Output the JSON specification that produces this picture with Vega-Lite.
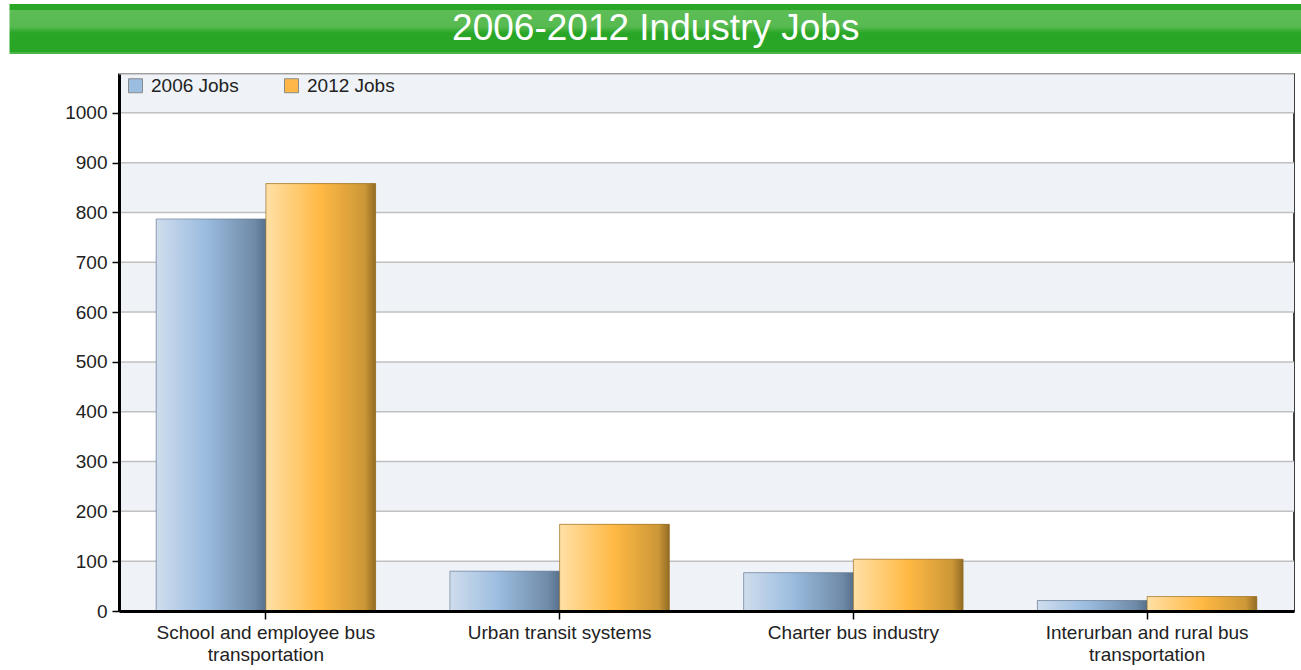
{
  "$schema": "https://vega.github.io/schema/vega-lite/v6.json",
  "padding": {"left": 9, "top": 4, "right": 0, "bottom": 0},
  "background": "white",
  "config": {
    "font": "Liberation Sans",
    "concat": {"spacing": 18},
    "axisY": {"domain": true, "domainColor": "#000", "domainWidth": 3, "tickColor": "#000", "tickWidth": 1.5, "tickSize": 7, "labelFontSize": 19, "labelColor": "#222", "labelPadding": 5, "grid": false, "zindex": 2, "format": "d"},
    "axisX": {"domain": true, "domainColor": "#000", "domainWidth": 3, "tickColor": "#000", "tickWidth": 1.5, "tickSize": 8, "labelFontSize": 19, "labelColor": "#222", "labelPadding": 4, "labelAngle": 0, "labelLineHeight": 22, "labelLimit": 0, "grid": false, "zindex": 2},
    "legend": {"orient": "none", "legendX": 7, "legendY": 2, "direction": "horizontal", "symbolType": "square", "symbolSize": 196, "symbolStrokeColor": "#8a8a8a", "symbolStrokeWidth": 1, "labelFontSize": 19, "labelColor": "#222", "labelOffset": 6, "columnPadding": 43, "title": null}
  },
  "datasets": {
    "jobs": [
      {"category": "School and employee bus transportation", "series": "2006 Jobs", "jobs": 787},
      {"category": "School and employee bus transportation", "series": "2012 Jobs", "jobs": 858},
      {"category": "Urban transit systems", "series": "2006 Jobs", "jobs": 80},
      {"category": "Urban transit systems", "series": "2012 Jobs", "jobs": 174},
      {"category": "Charter bus industry", "series": "2006 Jobs", "jobs": 77},
      {"category": "Charter bus industry", "series": "2012 Jobs", "jobs": 104},
      {"category": "Interurban and rural bus transportation", "series": "2006 Jobs", "jobs": 21},
      {"category": "Interurban and rural bus transportation", "series": "2012 Jobs", "jobs": 29}
    ],
    "bands": [
      {"lo": 0, "hi": 100},
      {"lo": 200, "hi": 300},
      {"lo": 400, "hi": 500},
      {"lo": 600, "hi": 700},
      {"lo": 800, "hi": 900},
      {"lo": 1000, "hi": 1078}
    ],
    "banner": [{"title": "2006-2012 Industry Jobs", "start": 0, "mid": 50, "end": 100}]
  },
  "resolve": {"scale": {"color": "independent"}, "legend": {"color": "independent"}},
  "vconcat": [
    {
      "width": 1175,
      "height": 50,
      "data": {"name": "banner"},
      "view": {"stroke": null},
      "layer": [
        {
          "mark": {"type": "rect", "fill": {"gradient": "linear", "x1": 0, "y1": 0, "x2": 0, "y2": 1, "stops": [
            {"offset": 0, "color": "#2aa627"},
            {"offset": 0.11, "color": "#2aa627"},
            {"offset": 0.12, "color": "#5dbd56"},
            {"offset": 0.45, "color": "#57ba51"},
            {"offset": 0.58, "color": "#2aa627"},
            {"offset": 0.96, "color": "#2aa627"},
            {"offset": 0.97, "color": "#4cb548"},
            {"offset": 1, "color": "#4cb548"}
          ]}},
          "encoding": {
            "x": {"field": "start", "type": "quantitative", "scale": {"domain": [8.472, 99.38], "nice": false, "zero": false}, "axis": null},
            "x2": {"field": "end"}
          }
        },
        {
          "mark": {"type": "text", "fontSize": 37, "color": "white", "baseline": "middle", "align": "center"},
          "encoding": {
            "x": {"field": "mid", "type": "quantitative", "axis": null},
            "text": {"field": "title"}
          }
        }
      ]
    },
    {
      "width": 1175,
      "height": 537,
      "data": {"name": "jobs"},
      "view": {"stroke": "#000", "strokeWidth": 1.5},
      "layer": [
        {
          "data": {"name": "bands"},
          "mark": {"type": "rect", "color": "#eff3f8"},
          "encoding": {
            "y": {"field": "lo", "type": "quantitative", "title": null, "scale": {"domain": [0, 1078], "nice": false},
              "axis": {"values": [0, 100, 200, 300, 400, 500, 600, 700, 800, 900, 1000], "domainWidth": 3, "domainColor": "#000", "zindex": 2}},
            "y2": {"field": "hi"}
          }
        },
        {
          "data": {"name": "bands"},
          "mark": {"type": "rule", "color": "#c0c0c0", "strokeWidth": 1.5},
          "encoding": {
            "y": {"field": "lo", "type": "quantitative", "title": null, "scale": {"domain": [0, 1078], "nice": false},
              "axis": {"values": [0, 100, 200, 300, 400, 500, 600, 700, 800, 900, 1000], "domainWidth": 3, "domainColor": "#000", "zindex": 2}}
          }
        },
        {
          "data": {"name": "bands"},
          "mark": {"type": "rule", "color": "#c0c0c0", "strokeWidth": 1.5},
          "encoding": {
            "y": {"field": "hi", "type": "quantitative", "title": null, "scale": {"domain": [0, 1078], "nice": false},
              "axis": {"values": [0, 100, 200, 300, 400, 500, 600, 700, 800, 900, 1000], "domainWidth": 3, "domainColor": "#000", "zindex": 2}}
          }
        },
        {
          "mark": {"type": "bar"},
          "encoding": {
            "x": {"field": "category", "type": "nominal", "sort": null, "title": null, "scale": {"paddingInner": 0.253, "paddingOuter": 0.1265},
              "axis": {"domainWidth": 3, "domainColor": "#000", "zindex": 2, "labelExpr": "datum.value == 'School and employee bus transportation' ? ['School and employee bus', 'transportation'] : datum.value == 'Interurban and rural bus transportation' ? ['Interurban and rural bus', 'transportation'] : datum.value"}},
            "xOffset": {"field": "series", "type": "nominal", "scale": {"domain": ["2006 Jobs", "2012 Jobs"], "paddingInner": 0, "paddingOuter": 0}},
            "y": {"field": "jobs", "type": "quantitative", "title": null, "scale": {"domain": [0, 1078], "nice": false},
              "axis": {"values": [0, 100, 200, 300, 400, 500, 600, 700, 800, 900, 1000], "domainWidth": 3, "domainColor": "#000", "zindex": 2}},
            "color": {"field": "series", "type": "nominal", "scale": {"domain": ["2006 Jobs", "2012 Jobs"], "range": ["#9bbde0", "#ffb847"]}}
          }
        },
        {
          "transform": [{"filter": "datum.series == '2006 Jobs'"}],
          "mark": {"type": "bar", "stroke": "#5f7288", "strokeWidth": 1, "strokeOpacity": 0.6, "fill": {"gradient": "linear", "x1": 0, "y1": 0, "x2": 1, "y2": 0, "stops": [
            {"offset": 0, "color": "#cfdded"},
            {"offset": 0.45, "color": "#9bbcdf"},
            {"offset": 0.9, "color": "#6f8aa7"},
            {"offset": 1, "color": "#56708c"}
          ]}},
          "encoding": {
            "x": {"field": "category", "type": "nominal", "sort": null, "title": null,
              "axis": {"domainWidth": 3, "domainColor": "#000", "zindex": 2, "labelExpr": "datum.value == 'School and employee bus transportation' ? ['School and employee bus', 'transportation'] : datum.value == 'Interurban and rural bus transportation' ? ['Interurban and rural bus', 'transportation'] : datum.value"}},
            "xOffset": {"field": "series", "type": "nominal", "scale": {"domain": ["2006 Jobs", "2012 Jobs"]}},
            "y": {"field": "jobs", "type": "quantitative", "title": null, "scale": {"domain": [0, 1078], "nice": false},
              "axis": {"values": [0, 100, 200, 300, 400, 500, 600, 700, 800, 900, 1000], "domainWidth": 3, "domainColor": "#000", "zindex": 2}}
          }
        },
        {
          "transform": [{"filter": "datum.series == '2012 Jobs'"}],
          "mark": {"type": "bar", "stroke": "#8a6420", "strokeWidth": 1, "strokeOpacity": 0.6, "fill": {"gradient": "linear", "x1": 0, "y1": 0, "x2": 1, "y2": 0, "stops": [
            {"offset": 0, "color": "#ffe0a6"},
            {"offset": 0.5, "color": "#ffb944"},
            {"offset": 0.9, "color": "#cc9737"},
            {"offset": 1, "color": "#926c24"}
          ]}},
          "encoding": {
            "x": {"field": "category", "type": "nominal", "sort": null, "title": null,
              "axis": {"domainWidth": 3, "domainColor": "#000", "zindex": 2, "labelExpr": "datum.value == 'School and employee bus transportation' ? ['School and employee bus', 'transportation'] : datum.value == 'Interurban and rural bus transportation' ? ['Interurban and rural bus', 'transportation'] : datum.value"}},
            "xOffset": {"field": "series", "type": "nominal", "scale": {"domain": ["2006 Jobs", "2012 Jobs"]}},
            "y": {"field": "jobs", "type": "quantitative", "title": null, "scale": {"domain": [0, 1078], "nice": false},
              "axis": {"values": [0, 100, 200, 300, 400, 500, 600, 700, 800, 900, 1000], "domainWidth": 3, "domainColor": "#000", "zindex": 2}}
          }
        }
      ]
    }
  ]
}
